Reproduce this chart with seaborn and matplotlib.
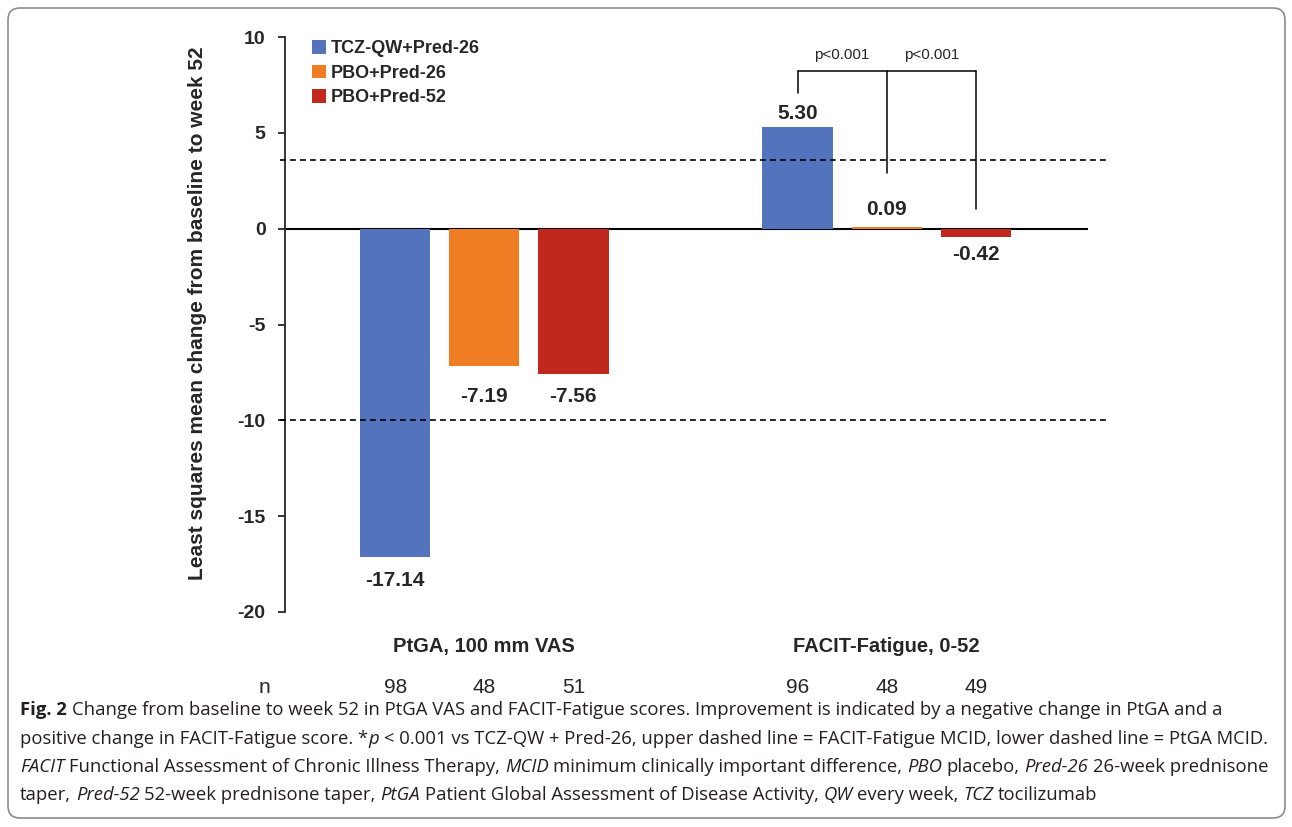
import matplotlib
matplotlib.use('Agg')
import matplotlib.pyplot as plt
from matplotlib.patches import FancyBboxPatch
from matplotlib.transforms import blended_transform_factory, IdentityTransform
import seaborn as sns
import pandas as pd

# ── DATA ──────────────────────────────────────────────
measures = ['PtGA, 100 mm VAS', 'FACIT-Fatigue, 0-52']
groups = ['TCZ-QW+Pred-26', 'PBO+Pred-26', 'PBO+Pred-52']
ptga_change = [-17.14, -7.19, -7.56]
facit_change = [5.30, 0.09, -0.42]
ptga_n = [98, 48, 51]
facit_n = [96, 48, 49]
mcid_facit = 3.6    # upper dashed line
mcid_ptga = -10     # lower dashed line
yticks = [-20, -15, -10, -5, 0, 5, 10]
colors = ['#5473BD', '#EE7D23', '#C0281E']

df = pd.DataFrame({
    'measure': [measures[0]] * 3 + [measures[1]] * 3,
    'group': groups * 2,
    'change': ptga_change + facit_change,
})

sns.set_style('ticks')
plt.rcParams['font.family'] = ['Liberation Sans', 'DejaVu Sans']

W, H = 1292, 827
fig = plt.figure(figsize=(W / 100, H / 100), dpi=100)
ax = fig.add_axes([285 / W, 215 / H, 803 / W, 575 / H])

sns.barplot(data=df, x='measure', y='change', hue='group', order=measures,
            hue_order=groups, palette=colors, saturation=1, width=0.664,
            gap=0.21, errorbar=None, linewidth=0, zorder=3, ax=ax)

ax.set_xlim(-0.495, 1.5)
ax.set_ylim(-20, 10)
ax.set_yticks(yticks)
ax.set_yticklabels([str(t) for t in yticks], fontsize=14, fontweight='bold')
ax.tick_params(axis='y', length=5, width=1.3, direction='out', pad=9)
ax.tick_params(axis='x', length=0, pad=18, labelsize=14.5)
for lbl in ax.get_xticklabels():
    lbl.set_fontweight('bold')
for s in ['top', 'right', 'bottom']:
    ax.spines[s].set_visible(False)
ax.spines['left'].set_linewidth(1.3)
ax.set_xlabel('')
ax.set_ylabel('Least squares mean change from baseline to week 52',
              fontsize=15, fontweight='bold')
ax.yaxis.set_label_coords(-0.097, 0.52)

# zero line and MCID lines
ax.axhline(0, color='black', lw=1.5, zorder=2)
for y in [mcid_facit, mcid_ptga]:
    ax.plot([-0.507, 1.545], [y, y], color='black', lw=1.2,
            ls=(0, (3.5, 2.5)), clip_on=False, zorder=4)

# value labels (offsets in points, per measure/group)
label_pad = [[10, 3], [15, 6], [10, 6]]
for i, cont in enumerate(ax.containers):
    for j, bar in enumerate(cont):
        v = [ptga_change, facit_change][j][i]
        cx = bar.get_x() + bar.get_width() / 2
        pad = label_pad[i][j]
        ax.annotate(f'{v:.2f}', (cx, v), xytext=(0, pad if v > 0 else -pad),
                    textcoords='offset points', ha='center',
                    va='bottom' if v > 0 else 'top', fontsize=15, fontweight='bold')

# n row
trans = blended_transform_factory(ax.transData, ax.transAxes)
ax.text(-0.545, -0.132, 'n', transform=trans, ha='center', va='center', fontsize=15)
for i, cont in enumerate(ax.containers):
    for j, bar in enumerate(cont):
        n = [ptga_n, facit_n][j][i]
        cx = bar.get_x() + bar.get_width() / 2
        ax.text(cx, -0.132, str(n), transform=trans, ha='center', va='center',
                fontsize=15)

# significance brackets (FACIT group)
centers = [c[1].get_x() + c[1].get_width() / 2 for c in ax.containers]
bx, ox, rx = centers
top = 8.23
kw = dict(color='black', lw=1.1)
ax.plot([bx, bx], [7.08, top], **kw)
ax.plot([bx, rx], [top, top], **kw)
ax.plot([ox, ox], [top, 2.9], **kw)
ax.plot([rx, rx], [top, 1.03], **kw)
ax.text((bx + ox) / 2, 9.06, 'p<0.001', ha='center', va='center', fontsize=11)
ax.text((ox + rx) / 2, 9.06, 'p<0.001', ha='center', va='center', fontsize=11)

# legend
handles, labels = ax.get_legend_handles_labels()
ax.legend(handles, labels, loc='upper left', bbox_to_anchor=(305 / W, 1 - 33 / H),
          bbox_transform=fig.transFigure, frameon=False,
          prop={'weight': 'bold', 'size': 13}, handlelength=0.75,
          handleheight=0.75, handletextpad=0.3, labelspacing=0.42, borderaxespad=0)

# ── CAPTION ───────────────────────────────────────────
cap_font = ['Open Sans', 'DejaVu Sans']
cap_lines = [
    [('Fig. 2', 'b'), (' Change from baseline to week 52 in PtGA VAS and FACIT-Fatigue scores. '
                       'Improvement is indicated by a negative change in PtGA and a', 'n')],
    [('positive change in FACIT-Fatigue score. *', 'n'), ('p', 'i'),
     (' < 0.001 vs TCZ-QW + Pred-26, upper dashed line = FACIT-Fatigue MCID, '
      'lower dashed line = PtGA MCID.', 'n')],
    [('FACIT', 'i'), (' Functional Assessment of Chronic Illness Therapy, ', 'n'),
     ('MCID', 'i'), (' minimum clinically important difference, ', 'n'),
     ('PBO', 'i'), (' placebo, ', 'n'), ('Pred-26', 'i'), (' 26-week prednisone', 'n')],
    [('taper, ', 'n'), ('Pred-52', 'i'), (' 52-week prednisone taper, ', 'n'),
     ('PtGA', 'i'), (' Patient Global Assessment of Disease Activity, ', 'n'),
     ('QW', 'i'), (' every week, ', 'n'), ('TCZ', 'i'), (' tocilizumab', 'n')],
]
renderer = fig.canvas.get_renderer()


def text_w(s, size, style):
    t = fig.text(0, 0, s, fontsize=size, family=cap_font,
                 fontweight='bold' if style == 'b' else 'normal',
                 fontstyle='italic' if style == 'i' else 'normal')
    w = t.get_window_extent(renderer).width
    t.remove()
    return w


def draw_line(segs, x0, y0, size, do_draw=True):
    sp = text_w('a a', size, 'n') - text_w('aa', size, 'n')
    x = x0
    for s, style in segs:
        if s.startswith(' '):
            x += sp
        core = s.strip()
        if do_draw:
            fig.text(x / W, 1 - y0 / H, core, fontsize=size, family=cap_font,
                     fontweight='bold' if style == 'b' else 'normal',
                     fontstyle='italic' if style == 'i' else 'normal',
                     color='#231f20', va='baseline', ha='left')
        x += text_w(core, size, style)
        if s.endswith(' '):
            x += sp
    return x - x0


base = 12
w2 = draw_line(cap_lines[1], 20, 0, base, do_draw=False)
cap_size = base * 1242 / w2
for line, yb in zip(cap_lines, [715, 744, 772, 800]):
    draw_line(line, 20, yb, cap_size)

# border
fig.add_artist(FancyBboxPatch((8, 9), 1277, 810, boxstyle='round,pad=0,rounding_size=12',
                              transform=IdentityTransform(), fill=False,
                              edgecolor='#8c8c8c', lw=1.2))

fig.savefig('out.png', dpi=100)
